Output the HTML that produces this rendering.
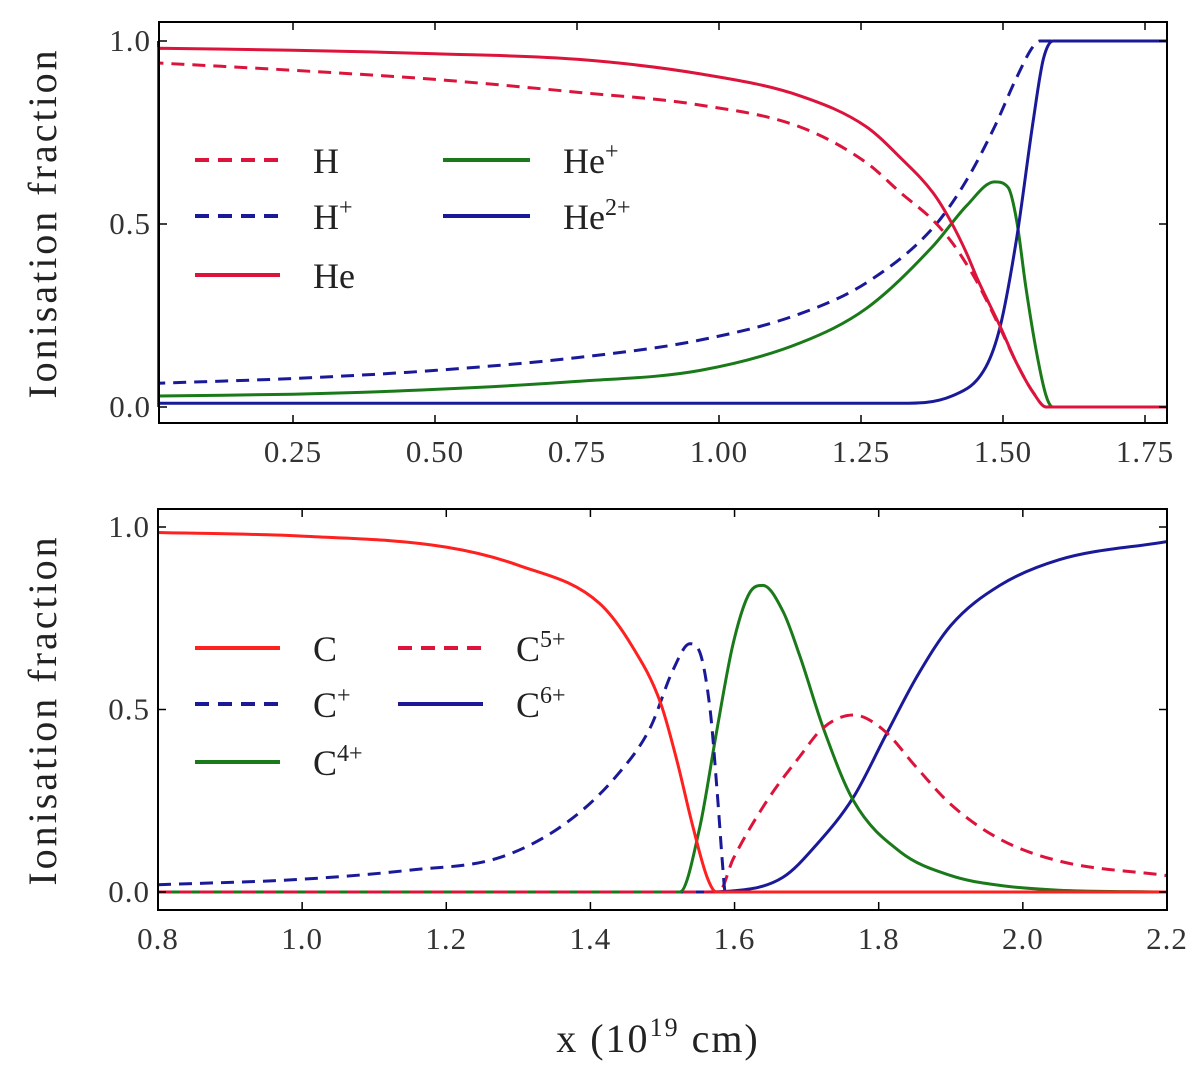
<!DOCTYPE html>
<html><head><meta charset="utf-8"><style>
body{margin:0;background:#fff;}
svg{display:block;font-family:"Liberation Serif",serif;}
</style></head><body>
<svg id="fig" width="1200" height="1066" viewBox="0 0 1200 1066">
<text x="56" y="223" font-size="40" letter-spacing="3" text-anchor="middle" transform="rotate(-90 56 223)" fill="#222">Ionisation fraction</text>
<text x="56" y="710" font-size="40" letter-spacing="3" text-anchor="middle" transform="rotate(-90 56 710)" fill="#222">Ionisation fraction</text>
<text x="658" y="1052" font-size="40" letter-spacing="2" text-anchor="middle" fill="#222">x (10<tspan font-size="26" dy="-16">19</tspan><tspan dy="16">  cm)</tspan></text>
</svg>
<script>
// ---- shared tick data ----
const ticksY = [0,0.5,1.0];
const tickLabelsY = ["0.0","0.5","1.0"];
// ---- top panel data ----
const topTicksX = [0.25,0.5,0.75,1.0,1.25,1.5,1.75];
const topTickLabelsX = ["0.25","0.50","0.75","1.00","1.25","1.50","1.75"];
const xHe  = [0.013,0.25,0.5,0.75,0.967,1.143,1.26,1.32,1.377,1.407,1.436,1.455,1.495,1.524,1.553,1.576,1.8];
const yHe  = [0.98,0.975,0.965,0.95,0.91,0.85,0.765,0.68,0.585,0.51,0.42,0.35,0.22,0.12,0.04,0.0,0.0];
const xH   = [0.013,0.25,0.5,0.75,0.967,1.143,1.26,1.32,1.377,1.41,1.436,1.455,1.495,1.524,1.553,1.576,1.8];
const yH   = [0.94,0.92,0.895,0.86,0.825,0.765,0.667,0.585,0.51,0.45,0.39,0.34,0.215,0.12,0.04,0.0,0.0];
const xHp  = [0.013,0.25,0.5,0.75,0.967,1.143,1.26,1.377,1.436,1.485,1.524,1.553,1.565,1.8];
const yHp  = [0.065,0.078,0.1,0.135,0.183,0.255,0.34,0.49,0.62,0.765,0.90,0.985,1.0,1.0];
const xHeP = [0.013,0.25,0.5,0.75,0.967,1.143,1.26,1.377,1.436,1.485,1.509,1.524,1.54,1.559,1.576,1.588,1.8];
const yHeP = [0.03,0.035,0.048,0.07,0.10,0.175,0.27,0.44,0.55,0.615,0.60,0.51,0.33,0.15,0.03,0.0,0.0];
const xHe2 = [0.013,0.5,1.0,1.32,1.41,1.47,1.495,1.524,1.553,1.571,1.588,1.8];
const yHe2 = [0.01,0.01,0.01,0.01,0.03,0.11,0.22,0.46,0.78,0.95,1.0,1.0];
// ---- bottom panel data ----
const botTicksX = [0.8,1.0,1.2,1.4,1.6,1.8,2.0,2.2];
const botTickLabelsX = ["0.8","1.0","1.2","1.4","1.6","1.8","2.0","2.2"];
const xC   = [0.8,1.0,1.2,1.3,1.413,1.459,1.497,1.52,1.542,1.562,1.575,2.2];
const yC   = [0.985,0.975,0.945,0.895,0.79,0.67,0.52,0.36,0.18,0.04,0.0,0.0];
const xCp  = [0.8,1.0,1.15,1.275,1.367,1.437,1.483,1.515,1.538,1.55,1.566,1.576,1.584,1.587,2.2];
const yCp  = [0.02,0.035,0.06,0.095,0.19,0.32,0.45,0.61,0.68,0.665,0.50,0.27,0.06,0.0,0.0];
const xC4  = [0.8,1.524,1.552,1.576,1.598,1.621,1.639,1.667,1.69,1.723,1.765,1.83,1.9,1.968,2.05,2.2];
const yC4  = [0.0,0.0,0.18,0.45,0.68,0.82,0.84,0.77,0.65,0.45,0.25,0.11,0.045,0.018,0.005,0.0];
const xC5  = [0.8,1.578,1.598,1.645,1.69,1.723,1.765,1.806,1.853,1.9,1.968,2.05,2.2];
const yC5  = [0.0,0.0,0.09,0.25,0.37,0.45,0.485,0.445,0.34,0.24,0.145,0.085,0.045];
const xC6  = [0.8,1.55,1.598,1.667,1.714,1.765,1.81,1.853,1.9,1.968,2.05,2.2];
const yC6  = [0.0,0.0,0.003,0.04,0.13,0.26,0.43,0.59,0.73,0.84,0.91,0.96];

const NS="http://www.w3.org/2000/svg";
const svg=document.getElementById('fig');
function mk(tag,attrs,parent){const e=document.createElementNS(NS,tag);for(const k in attrs)e.setAttribute(k,attrs[k]);(parent||svg).appendChild(e);return e;}

function panel(name,box,xs,ys,xTicks,xLabels){
  const g=mk('g',{});
  
  
  const clipId=name+'-clip';
  const cp=mk('clipPath',{id:clipId},g);mk('rect',{x:box.l-2,y:box.t,width:box.r-box.l+2,height:box.b-box.t},cp);
  const X=v=>xs.p0+(v-xs.v0)*xs.k, Y=v=>ys.p0-(v-ys.v0)*ys.k;
  const lines=mk('g',{'clip-path':'url(#'+clipId+')'},g);
  
  
  const frame=mk('rect',{x:box.l,y:box.t,width:box.r-box.l,height:box.b-box.t,fill:'none',stroke:'#000','stroke-width':2},g);
  
  
  xTicks.forEach((v,i)=>{
    const x=X(v);
    mk('line',{x1:x,x2:x,y1:box.b,y2:box.b-8,stroke:'#000','stroke-width':1.5},g);
    mk('line',{x1:x,x2:x,y1:box.t,y2:box.t+8,stroke:'#000','stroke-width':1.5},g);
    const t=mk('text',{x:x,y:box.b+39,'font-size':31,'letter-spacing':1,'text-anchor':'middle',fill:'#333'},g);
    t.textContent=xLabels[i];
    
    
  });
  ticksY.forEach((v,i)=>{
    const y=Y(v);
    mk('line',{x1:box.l,x2:box.l+8,y1:y,y2:y,stroke:'#000','stroke-width':1.5},g);
    mk('line',{x1:box.r,x2:box.r-8,y1:y,y2:y,stroke:'#000','stroke-width':1.5},g);
    const t=mk('text',{x:box.l-8,y:y+10,'font-size':31,'letter-spacing':1,'text-anchor':'end',fill:'#333'},g);
    t.textContent=tickLabelsY[i];
    
    
  });
  return {lines,X,Y,g};
}
// monotone cubic (Fritsch-Carlson) path through pixel points
function monoPath(px,py){
  const n=px.length, d=[], m=[];
  for(let i=0;i<n-1;i++) d.push((py[i+1]-py[i])/(px[i+1]-px[i]));
  m[0]=d[0]; m[n-1]=d[n-2];
  for(let i=1;i<n-1;i++){ m[i]=(d[i-1]*d[i]<=0)?0:(d[i-1]+d[i])/2; }
  for(let i=0;i<n-1;i++){
    if(d[i]===0){m[i]=0;m[i+1]=0;continue;}
    const a=m[i]/d[i], b=m[i+1]/d[i], s=a*a+b*b;
    if(s>9){const t=3/Math.sqrt(s);m[i]=t*a*d[i];m[i+1]=t*b*d[i];}
  }
  let p='M'+px[0].toFixed(1)+','+py[0].toFixed(1);
  for(let i=0;i<n-1;i++){
    const h=(px[i+1]-px[i])/3;
    p+='C'+(px[i]+h).toFixed(1)+','+(py[i]+m[i]*h).toFixed(1)+' '+(px[i+1]-h).toFixed(1)+','+(py[i+1]-m[i+1]*h).toFixed(1)+' '+px[i+1].toFixed(1)+','+py[i+1].toFixed(1);
  }
  return p;
}
function series(p,name,xv,yv,color,dash,startSpike){
  let d=monoPath(xv.map(p.X),yv.map(p.Y));
  if(startSpike!==undefined){ d='M'+p.X(xv[0]).toFixed(1)+','+p.Y(startSpike).toFixed(1)+'L'+d.slice(1); }
  const path=mk('path',{d:d,fill:'none',stroke:color,'stroke-width':3,'stroke-dasharray':dash||'none','stroke-linejoin':'round'},p.lines);
  
  
}
function legend(p,name,x,y,label,sup,color,dash,lineW){
  const g=mk('g',{},p.g);
  
  
  mk('line',{x1:x,x2:x+lineW,y1:y,y2:y,stroke:color,'stroke-width':4,'stroke-dasharray':dash||'none'},g);
  const t=mk('text',{x:x+lineW+33,y:y+13,'font-size':36,fill:'#222'},g);
  t.textContent=label;
  if(sup){const s=mk('tspan',{'font-size':24,dy:-14},t);s.textContent=sup;}
}
const CRIM='#dc143c',NAVY='#1a1a99',GRN='#1a7a1a',RED='#ff2020';

const topPanel=panel('top-panel',{l:159,t:22,r:1167,b:423},{p0:151,v0:0,k:568},{p0:407,v0:0,k:366},topTicksX,topTickLabelsX);
series(topPanel,'series-he-plus',xHeP,yHeP,GRN,null,0);
series(topPanel,'series-he2-plus',xHe2,yHe2,NAVY,null,0);
series(topPanel,'series-h-plus',xHp,yHp,NAVY,'13,8',1);
series(topPanel,'series-h',xH,yH,CRIM,'13,8',0);
series(topPanel,'series-he',xHe,yHe,CRIM,null,0);
legend(topPanel,'legend-h',195,160,'H','',CRIM,'14,9',85);
legend(topPanel,'legend-h-plus',195,216,'H','+',NAVY,'14,9',85);
legend(topPanel,'legend-he',195,275,'He','',CRIM,'',85);
legend(topPanel,'legend-he-plus',443,160,'He','+',GRN,'',87);
legend(topPanel,'legend-he2-plus',443,216,'He','2+',NAVY,'',87);

const botPanel=panel('bottom-panel',{l:158,t:509,r:1167,b:910},{p0:158,v0:0.8,k:720.7},{p0:892,v0:0,k:365},botTicksX,botTickLabelsX);
series(botPanel,'series-c6-plus',xC6,yC6,NAVY);
series(botPanel,'series-c4-plus',xC4,yC4,GRN);
series(botPanel,'series-c5-plus',xC5,yC5,CRIM,'13,8');
series(botPanel,'series-c-plus',xCp,yCp,NAVY,'13,8');
series(botPanel,'series-c',xC,yC,RED);
legend(botPanel,'legend-c',195,648,'C','',RED,'',85);
legend(botPanel,'legend-c-plus',195,704,'C','+',NAVY,'14,9',85);
legend(botPanel,'legend-c4-plus',195,762,'C','4+',GRN,'',85);
legend(botPanel,'legend-c5-plus',398,648,'C','5+',CRIM,'14,9',85);
legend(botPanel,'legend-c6-plus',398,704,'C','6+',NAVY,'',85);
</script>
</body></html>
